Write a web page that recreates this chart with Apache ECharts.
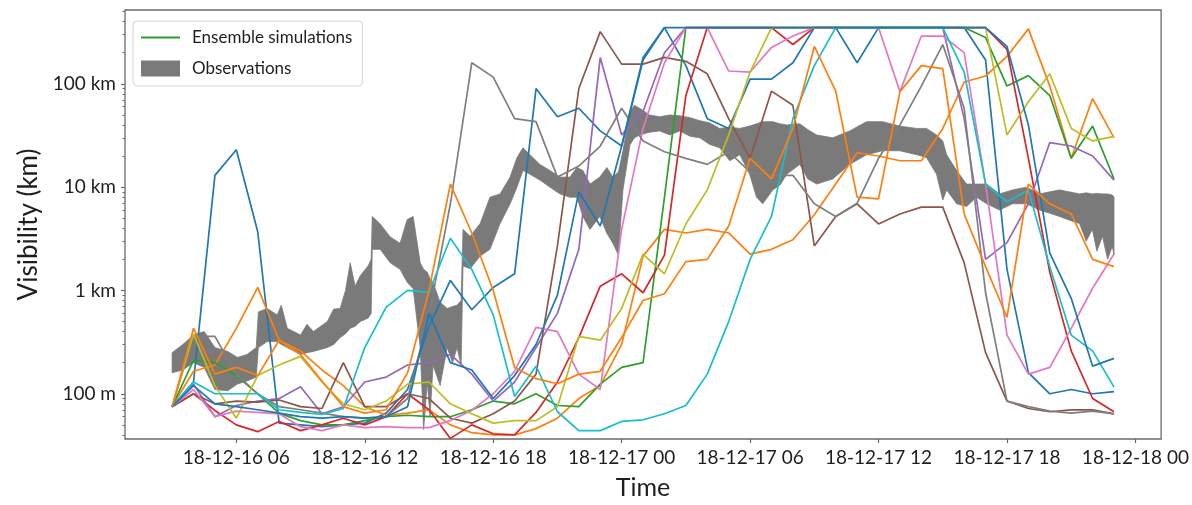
<!DOCTYPE html>
<html>
<head>
<meta charset="utf-8">
<script src="https://cdn.jsdelivr.net/npm/echarts@6/dist/echarts.min.js"></script>
<style>
  html, body { margin: 0; padding: 0; background: #ffffff; }
  #chart { width: 1192px; height: 505px; }
</style>
</head>
<body>
<div id="chart"></div>
<script>
// Hours counted from 18-12-16 00:00
const hours = [3, 4, 5, 6, 7, 8, 9, 10, 11, 12, 13, 14, 15, 16, 17, 18, 19, 20, 21, 22, 23, 24, 25,
  26, 27, 28, 29, 30, 31, 32, 33, 34, 35, 36, 37, 38, 39, 40, 41, 42, 43, 44, 45, 46, 47];

const tickHours = [6, 12, 18, 24, 30, 36, 42, 48];
const tickLabels = ['18-12-16 06', '18-12-16 12', '18-12-16 18', '18-12-17 00',
  '18-12-17 06', '18-12-17 12', '18-12-17 18', '18-12-18 00'];

const yTickValues = [0.1, 1, 10, 100];
const yTickLabels = ['100 m', '1 km', '10 km', '100 km'];
const yMinorValues = [0.04, 0.05, 0.06, 0.07, 0.08, 0.09, 0.2, 0.3, 0.4, 0.5, 0.6, 0.7, 0.8, 0.9,
  2, 3, 4, 5, 6, 7, 8, 9, 20, 30, 40, 50, 60, 70, 80, 90, 200, 300, 400, 500];

// Ensemble members, visibility in km (hourly)
const member01 = [0.075, 0.13, 13, 23, 3.7, 0.052, 0.05, 0.048, 0.05, 0.052, 0.065, 0.11, 0.45, 1.25, 0.65,
  1.07, 1.45, 90, 48, 58, 35, 25, 170, 350, 150, 46, 37, 111, 111, 160, 350, 350, 160, 350, 350,
  350, 350, 350, 170, 1.6, 0.16, 0.1, 0.11, 0.1, 0.105];
const member02 = [0.075, 0.165, 0.19, 0.43, 1.07, 0.33, 0.26, 0.17, 0.12, 0.075, 0.062, 0.065, 0.07, 0.05, 0.042,
  0.04, 0.04, 0.046, 0.058, 0.09, 0.12, 0.3, 2.15, 3.9, 3.6, 3.9, 3.6, 2.25, 2.5, 3.1, 5.4, 10.7, 21.5, 20, 18,
  18, 37, 104, 119, 184, 340, 95, 19, 72, 30];
const member03 = [0.075, 0.21, 0.2, 0.15, 0.1, 0.065, 0.055, 0.05, 0.05, 0.055, 0.06, 0.062, 0.06, 0.06, 0.07,
  0.085, 0.08, 0.1, 0.077, 0.075, 0.124, 0.18, 0.2, 8, 350, 350, 350, 350, 350, 350, 350, 350, 350, 350, 350,
  350, 350, 350, 280, 95, 120, 77, 19, 39, 12];
const member04 = [0.075, 0.1, 0.069, 0.05, 0.043, 0.054, 0.044, 0.05, 0.058, 0.05, 0.06, 0.1, 0.07, 0.037, 0.05,
  0.041, 0.04, 0.066, 0.13, 0.35, 1.1, 1.45, 0.95, 2.2, 77, 350, 350, 350, 350, 240, 350, 350, 350, 350, 350,
  350, 350, 350, 350, 215, 19, 1.5, 0.26, 0.09, 0.067];
const member05 = [0.075, 0.124, 0.06, 0.077, 0.085, 0.09, 0.117, 0.064, 0.075, 0.13, 0.145, 0.19, 0.2, 0.24, 0.155,
  0.085, 0.13, 0.28, 0.6, 2.5, 180, 32, 54, 200, 350, 350, 350, 350, 350, 350, 350, 350, 350, 350, 350,
  350, 350, 46, 2.0, 2.9, 6.9, 27, 25, 20, 11.7];
const member06 = [0.075, 0.1, 0.08, 0.085, 0.083, 0.087, 0.075, 0.072, 0.2, 0.075, 0.075, 0.1, 0.09, 0.058, 0.052,
  0.064, 0.085, 0.155, 2.7, 90, 320, 155, 155, 180, 165, 125, 46, 19, 85, 62, 2.7, 5.2, 6.9, 4.4, 5.5,
  6.4, 6.4, 1.85, 0.25, 0.085, 0.072, 0.067, 0.07, 0.07, 0.064];
const member07 = [0.075, 0.11, 0.06, 0.068, 0.066, 0.064, 0.048, 0.044, 0.05, 0.047, 0.048, 0.047, 0.047, 0.055, 0.069,
  0.1, 0.165, 0.44, 0.4, 0.155, 0.11, 3.9, 37, 160, 350, 350, 133, 130, 225, 290, 350, 350, 350, 350, 84,
  290, 290, 200, 10.7, 0.37, 0.155, 0.18, 0.43, 1.05, 2.25];
const member08 = [0.075, 0.36, 0.36, 0.155, 0.1, 0.075, 0.07, 0.065, 0.06, 0.058, 0.06, 0.09, 0.58, 6.9, 160,
  116, 46, 43, 12.5, 16, 25, 58, 28, 22, 19, 16.6, 22, 14, 13, 13, 6.9, 5.2, 7, 19, 40,
  95, 240, 58, 0.95, 0.085, 0.075, 0.068, 0.065, 0.068, 0.064];
const member09 = [0.075, 0.38, 0.12, 0.058, 0.15, 0.19, 0.23, 0.13, 0.08, 0.07, 0.085, 0.124, 0.13, 0.08, 0.064,
  0.052, 0.055, 0.055, 0.075, 0.36, 0.33, 0.67, 2.25, 1.45, 4.4, 9.4, 32, 130, 350, 350, 350, 350, 350, 350, 350,
  350, 350, 350, 350, 32, 67, 125, 37, 28, 31];
const member10 = [0.075, 0.13, 0.1, 0.1, 0.1, 0.07, 0.066, 0.063, 0.072, 0.28, 0.69, 1.0, 0.96, 3.2, 1.6,
  0.58, 0.094, 0.185, 0.067, 0.044, 0.044, 0.054, 0.056, 0.064, 0.077, 0.155, 0.5, 2.0, 5.2, 46, 150, 350, 350, 350, 350,
  350, 350, 130, 10.7, 7.2, 9.4, 1.7, 0.37, 0.26, 0.116];
const member11 = [0.075, 0.12, 0.08, 0.075, 0.07, 0.065, 0.06, 0.058, 0.06, 0.058, 0.06, 0.075, 0.6, 0.2, 0.17,
  0.09, 0.15, 0.3, 0.9, 9, 4.2, 25, 180, 350, 350, 350, 350, 350, 350, 350, 350, 350, 350, 350, 350,
  350, 350, 350, 350, 230, 40, 2.3, 0.84, 0.185, 0.22];
const member12 = [0.075, 0.43, 0.155, 0.18, 0.15, 0.33, 0.24, 0.133, 0.075, 0.065, 0.07, 0.16, 1.0, 10.7, 3.6,
  1.0, 0.18, 0.14, 0.125, 0.155, 0.165, 0.35, 0.8, 0.93, 1.9, 2.0, 4.2, 19, 12, 37, 230, 85, 8, 7.7, 84,
  150, 140, 5.5, 1.7, 0.55, 10.7, 6.9, 5.5, 2.0, 1.7];

const members = [member01, member02, member03, member04, member05, member06,
  member07, member08, member09, member10, member11, member12];

const memberColors = ['#1f77b4', '#ff7f0e', '#2ca02c', '#d62728', '#9467bd', '#8c564b',
  '#e377c2', '#7f7f7f', '#bcbd22', '#17becf'];

// Observed visibility range (km): lower and upper envelope
const obsHours = [
  3.0, 3.5, 4.0, 4.5, 5.0, 5.6, 6.05, 6.5, 6.93, 7.03,
  7.44, 7.91, 8.1, 8.38, 9.0, 9.3, 9.6, 10.25, 10.55, 10.85, 11.1, 11.32, 11.55,
  11.79, 12.16, 12.3, 12.35, 12.72, 13.19, 13.65, 13.98, 14.26, 14.59,
  14.75, 14.92, 15.05, 15.19, 15.52, 15.85, 16.1, 16.31, 16.5, 16.59,
  16.92, 17.39, 17.85, 18.32, 18.79, 19.11, 19.39, 19.72, 20.18, 20.65,
  21.12, 21.58, 21.91, 22.19, 22.52, 22.98, 23.31, 23.59, 23.85, 24.06,
  24.39, 24.6, 24.85, 25.3, 25.78, 26.25, 26.72, 27.2, 27.65, 28.1,
  28.58, 29.05, 29.52, 29.98, 30.3, 30.59, 31.06, 31.4, 31.71, 32.32,
  32.7, 33.11, 33.86, 34.65, 35.44, 36.19, 36.98, 37.78, 38.24, 38.71, 39.0,
  39.18, 39.65, 40.11, 40.58, 41.05, 41.65, 42.26, 42.91, 43.52, 44.0,
  44.45, 44.9, 45.39, 45.7, 45.99, 46.2, 46.46, 46.7, 46.92, 47.0];
const obsLow = [
  0.16, 0.17, 0.20, 0.18, 0.11, 0.107, 0.124, 0.133, 0.145, 0.28,
  0.32, 0.32, 0.30, 0.28, 0.24, 0.25, 0.257, 0.28, 0.30, 0.35, 0.38, 0.43, 0.45,
  0.50, 0.54, 0.6, 2.5, 2.5, 1.85, 1.6, 1.2, 1.04, 0.28,
  0.045, 0.13, 0.06, 0.19, 0.12, 0.28, 0.2, 0.28, 0.19, 1.73,
  1.62, 2.15, 2.5, 4.44, 6.9, 10, 14.5, 13.3, 11.7, 10,
  8.6, 8.0, 8.0, 5.2, 3.9, 5.2, 3.57, 2.86, 2.2, 9.4,
  25.7, 30, 32, 34, 35, 32, 35, 31, 30, 26,
  24, 18, 20.6, 13.3, 8, 6.9, 9.4, 10.5, 13.3, 16.6,
  12, 10.7, 12, 16.6, 20.6, 22.5, 22.5, 20.6, 19.3, 13.3, 7.5,
  9.4, 6.9, 6.5, 8.0, 6.9, 6.0, 6.9, 6.9, 6.0, 5.6,
  5.2, 4.8, 4.44, 3.0, 3.9, 2.4, 3.34, 2.0, 2.68, 2.2];
const obsHigh = [
  0.25, 0.30, 0.37, 0.40, 0.28, 0.257, 0.225, 0.24, 0.28, 0.62,
  0.67, 0.58, 0.72, 0.43, 0.37, 0.47, 0.40, 0.50, 0.66, 0.67, 1.0, 1.85, 1.1,
  1.39, 1.73, 2.0, 5.2, 4.4, 3.3, 2.86, 4.85, 5.2, 1.85,
  1.6, 1.5, 1.3, 1.19, 0.77, 0.67, 0.7, 0.72, 0.8, 3.9,
  3.34, 4.44, 8.0, 8.6, 12.5, 19.3, 24, 20.6, 16.6, 14.5,
  12.5, 12.5, 15.5, 14.5, 10.7, 12.5, 15.5, 12.5, 14, 22.5,
  54, 62, 57.8, 50, 48, 50, 49, 47, 44, 42,
  37, 38, 37, 39, 41, 43, 43, 41, 40, 41,
  36, 32, 30, 35, 43, 43, 39, 37, 37, 32, 28,
  20.6, 14.5, 10.7, 10.7, 10.7, 8.6, 9.4, 10, 8.6, 9.0,
  9.4, 9.0, 8.6, 8.8, 8.6, 8.7, 8.6, 8.6, 8.4, 8.0];

const FONT = 'Lato';
const AXIS_COLOR = '#6a6a6a';
const TEXT_COLOR = '#1e1e1e';
const BAND_COLOR = '#7a7a7a';
// Legend key for the line entry: a thin horizontal bar
const LINE_ICON = 'path://M0,0L40,0L40,2.2L0,2.2Z';

const chart = echarts.init(document.getElementById('chart'), null, { renderer: 'canvas' });

const memberSeries = members.map((vals, k) => {
  const color = memberColors[k % memberColors.length];
  return {
    type: 'line',
    name: k === 2 ? 'Ensemble simulations' : 'Member ' + (k + 1),
    data: hours.map((h, i) => [h, vals[i]]),
    symbol: 'none',
    showSymbol: false,
    lineStyle: { width: 1.7, color: color },
    itemStyle: { color: color },
    z: 3,
    silent: true,
    animation: false
  };
});

// Empty bar series: gives the band its plain filled-block legend key
const bandKeySeries = {
  type: 'bar',
  name: 'Observations',
  data: [],
  itemStyle: { color: BAND_COLOR },
  silent: true,
  animation: false
};

const bandSeries = {
  type: 'custom',
  name: 'Observations',
  coordinateSystem: 'cartesian2d',
  data: obsHours.map((h, i) => [h, obsLow[i], obsHigh[i]]),
  encode: { x: 0, y: [1, 2] },
  itemStyle: { color: BAND_COLOR },
  z: 1,
  silent: true,
  animation: false,
  renderItem: function (params, api) {
    if (params.dataIndex !== 0) return null;
    const pts = [];
    for (let i = 0; i < obsHours.length; i++) pts.push(api.coord([obsHours[i], obsHigh[i]]));
    for (let i = obsHours.length - 1; i >= 0; i--) pts.push(api.coord([obsHours[i], obsLow[i]]));
    return {
      type: 'polygon',
      shape: { points: pts },
      style: { fill: BAND_COLOR, stroke: BAND_COLOR, lineWidth: 0.8 }
    };
  }
};

const option = {
  backgroundColor: '#ffffff',
  animation: false,
  grid: {
    left: 125, right: 30, top: 10, bottom: 59,
    show: true, borderColor: AXIS_COLOR, borderWidth: 1.3, backgroundColor: 'transparent'
  },
  legend: {
    orient: 'vertical',
    left: 133, top: 21,
    data: [
      { name: 'Ensemble simulations', icon: LINE_ICON },
      { name: 'Observations', icon: 'rect' }
    ],
    symbolKeepAspect: true,
    itemWidth: 39, itemHeight: 16, itemGap: 14,
    padding: [8, 10, 9, 8],
    backgroundColor: 'rgba(255,255,255,0.85)',
    borderColor: '#d4d4d4', borderWidth: 1, borderRadius: 4,
    selectedMode: false,
    textStyle: { fontFamily: FONT, fontSize: 17, color: TEXT_COLOR, padding: [0, 0, 0, 7] }
  },
  xAxis: {
    type: 'value',
    min: 0.8, max: 49.2,
    name: 'Time',
    nameLocation: 'middle',
    nameGap: 36,
    nameTextStyle: { fontFamily: FONT, fontSize: 25, color: TEXT_COLOR },
    axisLine: { show: false },
    splitLine: { show: false },
    axisTick: { show: true, length: 4, customValues: tickHours, lineStyle: { color: AXIS_COLOR, width: 1.2 } },
    axisLabel: {
      customValues: tickHours,
      margin: 9,
      fontFamily: FONT, fontSize: 19, color: TEXT_COLOR,
      formatter: function (v) { return tickLabels[tickHours.indexOf(v)]; }
    }
  },
  yAxis: [{
    type: 'log',
    logBase: 10,
    min: 0.0365, max: 518,
    name: 'Visibility (km)',
    nameLocation: 'middle',
    nameGap: 78,
    nameTextStyle: { fontFamily: FONT, fontSize: 26, color: TEXT_COLOR },
    axisLine: { show: false },
    splitLine: { show: false },
    axisTick: { show: true, length: 4, customValues: yTickValues, lineStyle: { color: AXIS_COLOR, width: 1.2 } },
    axisLabel: {
      customValues: yTickValues,
      margin: 9,
      fontFamily: FONT, fontSize: 19, color: TEXT_COLOR,
      formatter: function (v) {
        const k = yTickValues.findIndex(t => Math.abs(t - v) / t < 1e-6);
        return k >= 0 ? yTickLabels[k] : '';
      }
    }
  }, {
    type: 'log',
    logBase: 10,
    min: 0.0365, max: 518,
    position: 'left',
    axisLine: { show: false },
    splitLine: { show: false },
    axisLabel: { show: false },
    axisTick: { show: true, length: 2.5, customValues: yMinorValues, lineStyle: { color: AXIS_COLOR, width: 1 } }
  }],
  series: [bandKeySeries, bandSeries].concat(memberSeries)
};

chart.setOption(option);
</script>
</body>
</html>
